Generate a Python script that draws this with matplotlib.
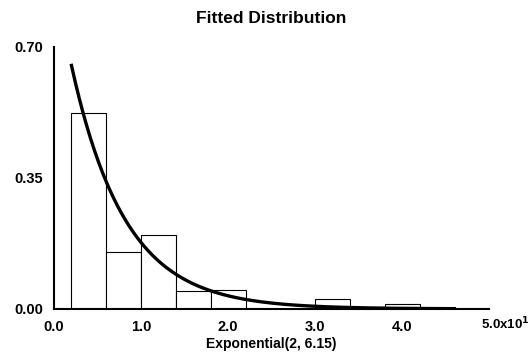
import numpy as np
import matplotlib
matplotlib.use('Agg')
import matplotlib.pyplot as plt
from matplotlib.transforms import offset_copy

plt.rcParams['font.family'] = ['Liberation Sans', 'DejaVu Sans']
plt.rcParams['font.weight'] = 'bold'

# histogram bins (x in units of 10^1) and relative frequencies
bin_left = [0.2, 0.6, 1.0, 1.4, 1.8, 2.2, 2.6, 3.0, 3.4, 3.8, 4.2]
bin_freq = [0.522, 0.153, 0.197, 0.048, 0.050, 0.0, 0.0, 0.027, 0.0, 0.013, 0.0]
bin_width = 0.4

# fitted exponential: location 2, scale 6.15
fit_loc = 2.0
fit_scale = 6.15

x_ticks = [0.0, 1.0, 2.0, 3.0, 4.0, 5.0]
x_labels = ['0.0', '1.0', '2.0', '3.0', '4.0', '5.0x10$^{\\mathbf{1}}$']
y_ticks = [0.0, 0.35, 0.70]
y_labels = ['0.00', '0.35', '0.70']

fig = plt.figure(figsize=(5.3, 3.55), dpi=100)
ax = fig.add_axes([0.102, 0.13, 0.821, 0.738])

ax.bar(bin_left, bin_freq, width=bin_width, align='edge',
       facecolor='white', edgecolor='black', linewidth=0.8)

xs = np.linspace(fit_loc / 10, 4.6, 300)
ys = bin_width * 10 / fit_scale * np.exp(-(xs * 10 - fit_loc) / fit_scale)
ax.plot(xs, ys, color='black', linewidth=2.4)

ax.set_xlim(0, 5.0)
ax.set_ylim(0, 0.70)
ax.set_xticks(x_ticks)
ax.set_xticklabels(x_labels)
ax.set_yticks(y_ticks)
ax.set_yticklabels(y_labels)
ax.tick_params(length=0, labelsize=10.5)
ax.tick_params(axis='x', pad=8)
ax.tick_params(axis='y', pad=8)
for lab in ax.get_xticklabels() + ax.get_yticklabels():
    lab.set_fontweight('bold')

# last label starts near its tick rather than being centred on it
last = ax.get_xticklabels()[-1]
last.set_fontsize(9.5)
last.set_horizontalalignment('left')
last.set_transform(offset_copy(last.get_transform(), fig=fig, x=-6, y=3, units='points'))

ax.spines['top'].set_visible(False)
ax.spines['right'].set_visible(False)
ax.spines['left'].set_linewidth(1.5)
ax.spines['bottom'].set_linewidth(1.5)

ax.set_title('Fitted Distribution', fontsize=12.5, fontweight='bold', pad=17)
ax.set_xlabel('Exponential(2, 6.15)', fontsize=10, fontweight='bold', labelpad=2)

fig.savefig('out.png', dpi=100)
